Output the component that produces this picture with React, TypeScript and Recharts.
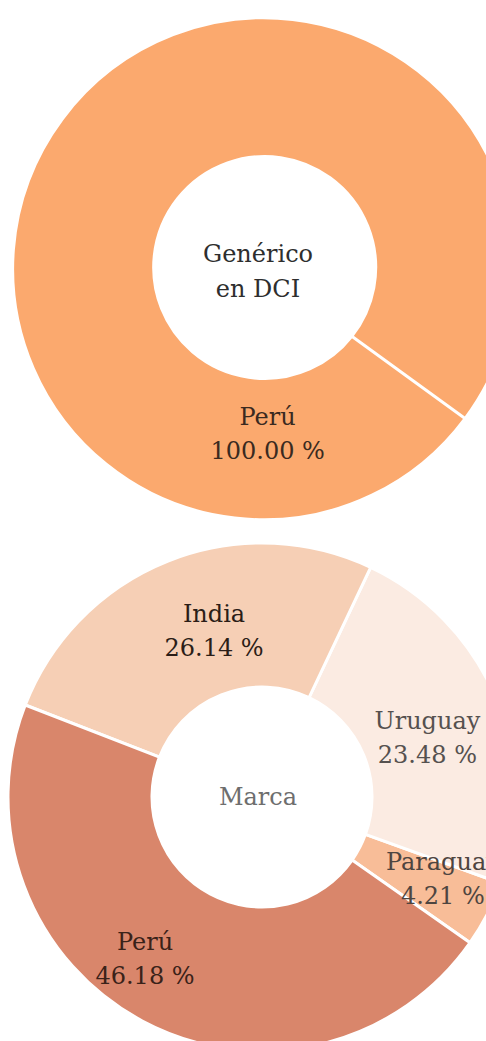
import React from "react";
import { PieChart, Pie, Cell } from "recharts";

// Genérico en DCI
const topCountries = ["Perú"];
const topShares = [100];
const topLabels = ["100.00 %"];
const topTitle = ["Genérico", "en DCI"];

// Marca
const markCountries = ["Paraguay", "Uruguay", "India", "Perú"];
const markShares = [4.21, 23.48, 26.14, 46.18];
const markLabels = ["4.21 %", "23.48 %", "26.14 %", "46.18 %"];
const markTitle = ["Marca"];

const topColors = ["#FBA96E"];
const markColors = ["#F8BD98", "#FBEBE2", "#F6CFB5", "#D9866B"];
const markTextColors = ["#4e4540", "#56514f", "#2b1d17", "#3a2219"];

// where each label sits (angle in degrees, radius in px from centre)
const topLabelPos = [{ angle: -88, r: 162 }];
const markLabelPos = [
  { angle: -24, r: 198 },
  { angle: 20, r: 176 },
  { angle: 106, r: 174 },
  { angle: 234, r: 199 },
];

const FONT = "'DejaVu Serif', serif";
const SIZE = 24;
const RAD = Math.PI / 180;

const topData = topCountries.map((name, i) => ({ name, value: topShares[i], pct: topLabels[i] }));
const markData = markCountries.map((name, i) => ({ name, value: markShares[i], pct: markLabels[i] }));

function sliceLabel(
  pos: { angle: number; r: number }[],
  colors: string[],
  title: string[],
  titleColor: string
) {
  return (props: any) => {
    const { cx, cy, index, payload } = props;
    const p = pos[index];
    const x = cx + p.r * Math.cos(p.angle * RAD);
    const y = cy - p.r * Math.sin(p.angle * RAD);
    const top = cy - ((title.length - 1) * 34) / 2 + 8;
    return (
      <g>
        <text x={x} y={y} textAnchor="middle" fill={colors[index]} fontFamily={FONT} fontSize={SIZE}>
          <tspan x={x} y={y - 8}>{payload.name}</tspan>
          <tspan x={x} y={y + 26}>{payload.pct}</tspan>
        </text>
        {index === 0 && (
          <text textAnchor="middle" fill={titleColor} fontFamily={FONT} fontSize={SIZE}>
            {title.map((l, i) => (
              <tspan key={i} x={cx - 4} y={top + i * 35}>{l}</tspan>
            ))}
          </text>
        )}
      </g>
    );
  };
}

export default function App() {
  return (
    <div style={{ position: "absolute", left: 0, top: 0, width: 486, height: 1041, overflow: "hidden", background: "#fff" }}>
      <PieChart width={486} height={1041}>
        <Pie
          data={topData}
          dataKey="value"
          nameKey="name"
          cx={257}
          cy={266}
          innerRadius={111}
          outerRadius={251}
          startAngle={-36}
          endAngle={324}
          stroke="#fff"
          strokeWidth={3}
          labelLine={false}
          label={sliceLabel(topLabelPos, ["#3a2a20"], topTitle, "#2e2e2e")}
          isAnimationActive={false}
        >
          {topData.map((d, i) => (
            <Cell key={d.name} fill={topColors[i]} />
          ))}
        </Pie>
        <Pie
          data={markData}
          dataKey="value"
          nameKey="name"
          cx={257}
          cy={792}
          innerRadius={110}
          outerRadius={254}
          startAngle={-35}
          endAngle={325}
          stroke="#fff"
          strokeWidth={3}
          labelLine={false}
          label={sliceLabel(markLabelPos, markTextColors, markTitle, "#6e6e6e")}
          isAnimationActive={false}
        >
          {markData.map((d, i) => (
            <Cell key={d.name} fill={markColors[i]} />
          ))}
        </Pie>
      </PieChart>
    </div>
  );
}
